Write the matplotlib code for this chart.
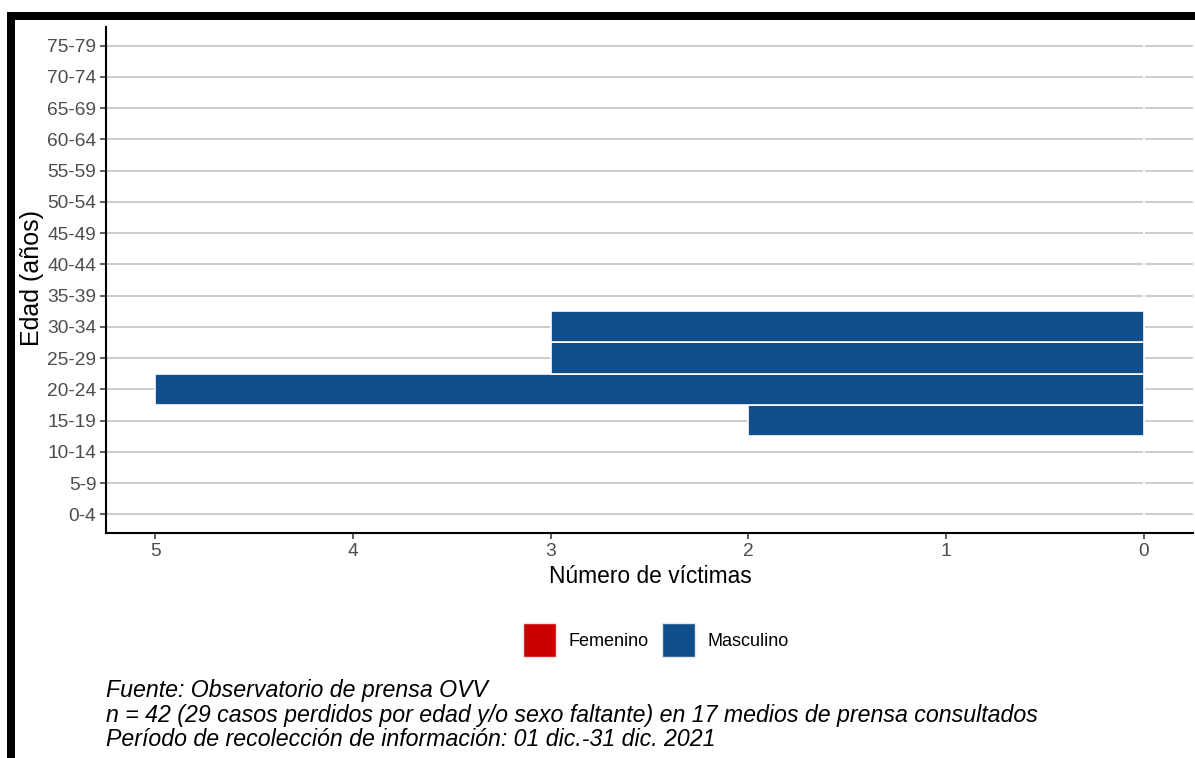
import matplotlib
matplotlib.use("Agg")
import matplotlib.pyplot as plt
from matplotlib.patches import Rectangle, Patch

plt.rcParams["font.family"] = ["Liberation Sans", "DejaVu Sans"]

# Datos: victimas por grupo de edad y sexo
grupos = ["0-4", "5-9", "10-14", "15-19", "20-24", "25-29", "30-34", "35-39",
          "40-44", "45-49", "50-54", "55-59", "60-64", "65-69", "70-74", "75-79"]
masculino = [0, 0, 0, 2, 5, 3, 3, 0, 0, 0, 0, 0, 0, 0, 0, 0]
femenino = [0] * len(grupos)
ticks_x = [5, 4, 3, 2, 1, 0]

col_fem = "#CD0000"
col_mas = "#104E8B"

W, H = 1195, 758
fig = plt.figure(figsize=(W / 100, H / 100), dpi=100)
ax = fig.add_axes([106 / W, 1 - 533 / H, 1087 / W, 506 / H])

pos = list(range(len(grupos)))
ax.barh(pos, femenino, height=1, color=col_fem, edgecolor="white", linewidth=1.2, zorder=2)
ax.barh(pos, masculino, height=1, color=col_mas, edgecolor="white", linewidth=1.2, zorder=2)

ax.set_xlim(5.25, -0.25)
ax.set_ylim(-0.6, len(grupos) - 0.4)
ax.set_yticks(pos)
ax.set_yticklabels(grupos)
ax.set_xticks(ticks_x)
ax.set_xticklabels([str(t) for t in ticks_x])
ax.tick_params(axis="both", labelsize=13.8, labelcolor="#4d4d4d", color="#333333",
               length=4, width=1.1, pad=3)
ax.yaxis.grid(True, color="#cccccc", linewidth=1.4, zorder=0)
ax.xaxis.grid(False)
ax.set_axisbelow(True)
for s in ["top", "right"]:
    ax.spines[s].set_visible(False)
for s in ["left", "bottom"]:
    ax.spines[s].set_linewidth(1.5)
    ax.spines[s].set_color("black")

ax.set_xlabel("Número de víctimas", fontsize=16.4)
ax.set_ylabel("Edad (años)", fontsize=18)
ax.yaxis.set_label_coords((44 - 106) / 1087, (533 - 278) / 506)
ax.xaxis.set_label_coords((650 - 106) / 1087, -(565 - 533) / 506)

handles = [Patch(facecolor=col_fem, edgecolor="#e6e6e6", label="Femenino"),
           Patch(facecolor=col_mas, edgecolor="#e6e6e6", label="Masculino")]
fig.legend(handles=handles, loc="center", bbox_to_anchor=(656 / W, 1 - 640 / H),
           ncol=2, frameon=False, fontsize=13, handlelength=1.85, handleheight=2.45,
           handletextpad=0.7, columnspacing=0.7)

caption = ("Fuente: Observatorio de prensa OVV\n"
           "n = 42 (29 casos perdidos por edad y/o sexo faltante) en 17 medios de prensa consultados\n"
           "Período de recolección de información: 01 dic.-31 dic. 2021")
fig.text(106 / W, 1 - 679 / H, caption, ha="left", va="top", fontsize=16.65,
         style="italic", linespacing=1.09)

# marco negro recortado (arriba e izquierda)
fig.add_artist(Rectangle((7 / W, 1 - 20 / H), 1, 8 / H, transform=fig.transFigure,
                         facecolor="black", edgecolor="none"))
fig.add_artist(Rectangle((7 / W, 0), 8 / W, 1 - 12 / H, transform=fig.transFigure,
                         facecolor="black", edgecolor="none"))

fig.savefig("out.png", dpi=100)
